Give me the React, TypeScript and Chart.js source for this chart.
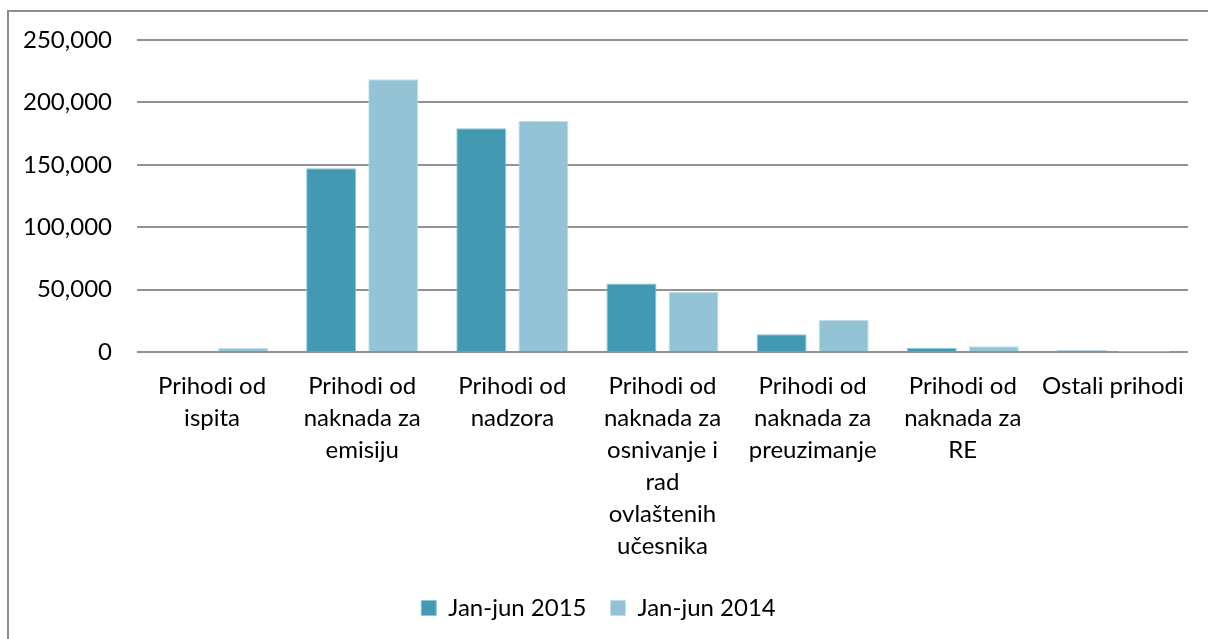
import React, { useEffect, useRef } from "react";
import { Chart, registerables } from "chart.js";

Chart.register(...registerables);

const categories: string[][] = [
  ["Prihodi od", "ispita"],
  ["Prihodi od", "naknada za", "emisiju"],
  ["Prihodi od", "nadzora"],
  ["Prihodi od", "naknada za", "osnivanje i", "rad", "ovlaštenih", "učesnika"],
  ["Prihodi od", "naknada za", "preuzimanje"],
  ["Prihodi od", "naknada za", "RE"],
  ["Ostali prihodi"],
];

const series2015: number[] = [0, 147200, 179200, 55000, 14200, 3200, 1400];
const series2014: number[] = [3200, 218500, 185100, 48300, 25600, 4600, 300];

const seriesNames = ["Jan-jun 2015", "Jan-jun 2014"];
const yTicks = { min: 0, max: 250000, step: 50000 };

const FONT = "Lato, 'Open Sans', sans-serif";

export default function App() {
  const ref = useRef<HTMLCanvasElement | null>(null);

  useEffect(() => {
    document.body.style.margin = "0";
    const ctx = ref.current!;
    const chart = new Chart(ctx, {
      type: "bar",
      data: {
        labels: categories,
        datasets: [
          {
            label: seriesNames[0],
            data: series2015,
            backgroundColor: "#4399b1",
            borderColor: "#8fc4d4",
            borderWidth: 1,
            categoryPercentage: 0.827,
            barPercentage: 0.806,
          },
          {
            label: seriesNames[1],
            data: series2014,
            backgroundColor: "#93c3d4",
            borderColor: "#c2dfe9",
            borderWidth: 1,
            categoryPercentage: 0.827,
            barPercentage: 0.806,
          },
        ],
      },
      options: {
        animation: false,
        responsive: false,
        maintainAspectRatio: false,
        layout: { padding: { top: 28, right: 20, left: 0, bottom: 9 } },
        plugins: {
          tooltip: { enabled: false },
          legend: {
            position: "bottom",
            labels: {
              boxWidth: 15,
              boxHeight: 15,
              padding: 24,
              color: "#000",
              font: { family: FONT, size: 24 },
            },
          },
        },
        scales: {
          x: {
            afterFit: (s: any) => {
              s.height = s.height - 8;
            },
            grid: { display: false, drawTicks: false },
            border: { display: false },
            ticks: {
              color: "#000",
              padding: 18,
              maxRotation: 0,
              autoSkip: false,
              font: { family: FONT, size: 24, lineHeight: 1.333 },
            },
          },
          y: {
            min: yTicks.min,
            max: yTicks.max,
            afterFit: (s: any) => {
              s.width = 128;
              s.paddingTop = 0;
              s.paddingBottom = 0;
            },
            grid: { color: "#929292", lineWidth: 2, drawTicks: false },
            border: { display: false },
            ticks: {
              stepSize: yTicks.step,
              color: "#000",
              padding: 25,
              font: { family: FONT, size: 24 },
              callback: (v: any) => Number(v).toLocaleString("en-US"),
            },
          },
        },
      },
    });
    return () => chart.destroy();
  }, []);

  return (
    <div
      style={{
        position: "fixed",
        left: 7,
        top: 10,
        width: 1201,
        height: 629,
        borderLeft: "2px solid #8c8c8c",
        borderTop: "2px solid #8c8c8c",
        background: "#fff",
      }}
    >
      <canvas ref={ref} width={1199} height={627} style={{ display: "block" }} />
    </div>
  );
}
